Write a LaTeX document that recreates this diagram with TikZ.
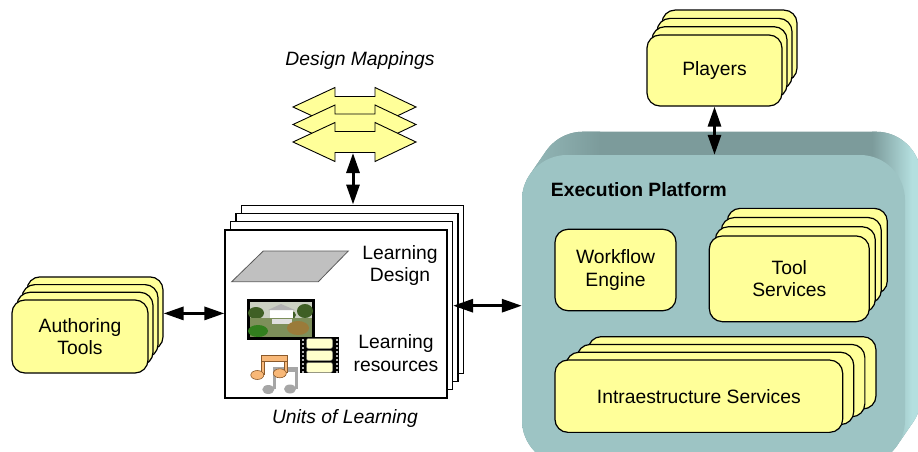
\documentclass[tikz,border=0pt]{standalone}
\usepackage{fontspec}
\setmainfont{Liberation Sans}
\usetikzlibrary{arrows.meta}
\definecolor{ylw}{HTML}{FFFF99}
\definecolor{platfront}{HTML}{9DC4C4}
\definecolor{plattop}{HTML}{7C9B9B}
\definecolor{platside}{HTML}{B4DFDF}
\definecolor{ldgray}{HTML}{C0C0C0}
\definecolor{sky}{HTML}{CBD0C2}
\definecolor{treeg}{HTML}{3F5F25}
\definecolor{waterg}{HTML}{7D8F5A}
\definecolor{bushb}{HTML}{9A7B3A}
\definecolor{filmy}{HTML}{FFFFCC}
\definecolor{noteor}{HTML}{F8B878}
\definecolor{notebr}{HTML}{8B5A2B}
\tikzset{
  txt/.style={font=\fontsize{19.3}{22.5}\selectfont, align=center, inner sep=0pt},
  itxt/.style={font=\fontsize{19.3}{22.5}\selectfont\itshape, inner sep=0pt},
  btxt/.style={font=\fontsize{19.3}{22.5}\selectfont\bfseries, inner sep=0pt},
  ybox/.style={draw=black, line width=1.2pt, fill=ylw, rounded corners=13pt, inner sep=0pt},
  pagebox/.style={draw=black, line width=1.2pt, fill=white, inner sep=0pt},
  dbl/.style={line width=3pt, {Triangle[length=20pt,width=13pt]}-{Triangle[length=20pt,width=13pt]}},
  blockarrow/.style={draw=black, line width=0.9pt, fill=ylw}
}
\newcommand\mystack[8]{%
  \foreach \k in {3,2,1}{\node[ybox, minimum width=#4pt, minimum height=#5pt] (#1-\k) at ({#2+\k*(#6)},{#3+\k*(#7)}) {};}
  \node[ybox, txt, minimum width=#4pt, minimum height=#5pt] (#1) at (#2,#3) {#8};
}
\begin{document}
\begin{tikzpicture}[x=1pt,y=-1pt]
\useasboundingbox (0,0) rectangle (918,452);
\begin{scope}
  \clip (0,0) rectangle (918,452);
  % platform extrusion
  \begin{scope}
    \clip[rounded corners=45pt] \foreach \t in {0,1,...,24} { ({522+16*\t/24},{155-23.3*\t/24}) rectangle ++(383,310) };
    \fill[plattop] (500,100) rectangle (940,480);
    \shade[left color=plattop, right color=platside] (872,100) rectangle (912,480);
    \fill[platside] (911.5,100) rectangle (940,480);
    \shade[left color=platfront!85!plattop, right color=plattop] (515,100) rectangle (600,480);
  \end{scope}
  \node[fill=platfront, rounded corners=45pt, minimum width=383pt, minimum height=310pt, inner sep=0pt] (plat) at (713.5,310) {};
\end{scope}
\node[btxt, anchor=west] (eplabel) at (550.7,190) {Execution Platform};

% design mappings
\foreach \cy in {107,124.5,142}{
  \draw[blockarrow] (293,\cy) -- ++(42,-19.5) -- ++(0,9) -- ++(40,0) -- ++(0,-9) -- ++(41,19.5) -- ++(-41,19.5) -- ++(0,-9) -- ++(-40,0) -- ++(0,9) -- cycle;
}
\coordinate (dmc) at (353,153);
\node[itxt] (dmlabel) at (360,61) {Design Mappings};

% units of learning
\foreach \k in {3,2,1}{\node[pagebox, minimum width=222pt, minimum height=168pt] (uol-\k) at ({336+\k*5.5},{314-\k*8.3}) {};}
\node[pagebox, minimum width=222pt, minimum height=168pt] (uol) at (336,314) {};
\draw[fill=ldgray, draw=gray!70!black, line width=0.8pt] (231.7,281.7) -- (318.3,281.7) -- (348.3,251) -- (263.3,251) -- cycle;
\node[txt] (ld) at (400,265.5) {Learning\\Design};
\node[txt] (lr) at (396,353) {Learning\\resources};
% photo
\fill[black] (246.7,299.3) rectangle (315,340);
\fill[sky] (249.5,302) rectangle (312.2,337.3);
\fill[treeg] (256,313) ellipse (8 and 6);
\fill[treeg] (305,311) ellipse (8 and 7);
\fill[treeg] (291,315) ellipse (5 and 4);
\fill[white] (270,309) rectangle (293,318);
\fill[gray!60] (268,310) -- (281,304) -- (295,310) -- cycle;
\fill[waterg] (249.5,318) rectangle (312.2,337.3);
\fill[white!75!gray] (272,319) rectangle (292,324);
\fill[bushb] (298,328) ellipse (11 and 7);
\fill[treeg!80!green] (258,331) ellipse (10 and 6);
% film strip
\fill[black] (300,336.7) rectangle (339.3,373.3);
\foreach \yy in {338.5,350.5,362.5}{\filldraw[fill=filmy, draw=gray, rounded corners=2pt] (306.5,\yy) rectangle ++(26,10);}
\foreach \yy in {339,343,...,371}{\fill[gray!60] (301.5,\yy) rectangle ++(2.5,1.5); \fill[gray!60] (335.5,\yy) rectangle ++(2.5,1.5);}
% notes (shadow)
\fill[gray!70] (268.3,389.5) ellipse (6 and 4.5);
\fill[gray!70] (290,389) ellipse (6 and 4.5);
\fill[gray!70] (272.5,367) rectangle (275.5,389);
\fill[gray!70] (294.5,367) rectangle (297.5,389);
\fill[gray!70] (272.5,366.7) rectangle (297.5,372);
% notes (orange)
\filldraw[fill=noteor, draw=notebr, line width=0.6pt] (261.5,355) rectangle (287,361.5);
\filldraw[fill=noteor, draw=notebr, line width=0.6pt] (261.5,361.5) rectangle (264,374);
\filldraw[fill=noteor, draw=notebr, line width=0.6pt] (284.5,361.5) rectangle (287,372);
\filldraw[fill=noteor, draw=notebr, line width=0.6pt] (257.3,375) ellipse (6.5 and 4.5);
\filldraw[fill=noteor, draw=notebr, line width=0.6pt] (279.8,373.3) ellipse (6.5 and 4.5);
\node[itxt] (uollabel) at (345,419) {Units of Learning};

% stacks
\mystack{auth}{80}{336.5}{136}{73}{5}{-7.7}{Authoring\\Tools}
\mystack{play}{714.5}{70.5}{135}{71}{5}{-8.3}{Players}
\mystack{tool}{789.3}{278.8}{160}{85.7}{6}{-9.2}{Tool\\Services}
\mystack{infra}{698.8}{396.2}{287.7}{72.3}{11.1}{-7.8}{Intraestructure Services}
\node[ybox, txt, minimum width=121pt, minimum height=81.4pt] (wf) at (615.5,270) {Workflow\\Engine};

% connectors
\draw[dbl] (auth-3.east) -- (uol.west |- auth-3.east);
\draw[dbl] (uol-1.east) -- (plat.west |- uol-1.east);
\draw[dbl] (play.south) -- (play.south |- plat.north);
\draw[dbl] (dmc) -- (dmc |- uol-3.north);
\end{tikzpicture}
\end{document}
